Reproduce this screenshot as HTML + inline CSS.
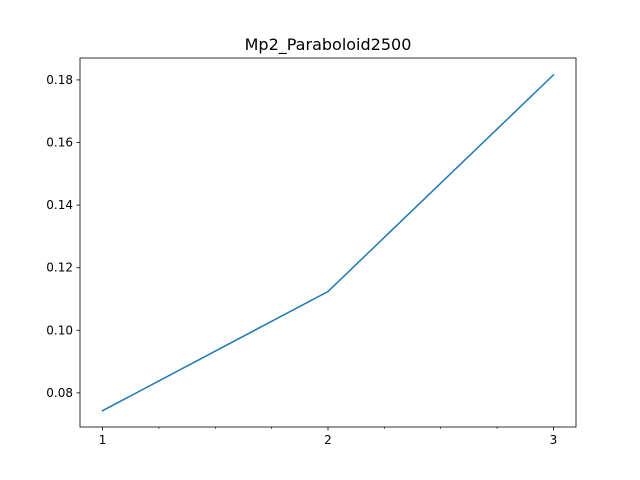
<!DOCTYPE html>
<html><head><meta charset="utf-8"><style>body{margin:0;background:#fff}svg{display:block}text{font-family:"DejaVu Sans","Liberation Sans",sans-serif}</style></head>
<body>
<svg id="c" width="640" height="480">
<rect x="0" y="0" width="640" height="480" fill="#fff"/>
<text x="328" y="50" text-anchor="middle" font-size="16" fill="#000">Mp2_Paraboloid2500</text>
</svg>
<script>
const xs=[1,2,3];
const ys=[0.0743,0.1124,0.1816];
const yTicks=[0.08,0.10,0.12,0.14,0.16,0.18];
const yTickLabels=["0.08","0.10","0.12","0.14","0.16","0.18"];
const xTicks=[1,2,3];
const xTickLabels=["1","2","3"];
const xMinor=[1.25,1.5,1.75,2.25,2.5,2.75];
const L=80,R=576,T=58,B=427;
const x0=0.9,x1=3.1,y0=0.0691,y1=0.1870;
const sx=v=>L+(v-x0)/(x1-x0)*(R-L);
const sy=v=>B-(v-y0)/(y1-y0)*(B-T);
const svg=document.getElementById('c');const NS='http://www.w3.org/2000/svg';
function mk(t,a){const e=document.createElementNS(NS,t);for(const k in a)e.setAttribute(k,a[k]);svg.appendChild(e);return e;}
const pts=xs.map((v,i)=>sx(v)+','+sy(ys[i])).join(' ');
const pl=mk('polyline',{points:pts,fill:'none',stroke:'#1f77b4','stroke-width':1.5,'stroke-linecap':'square'});


yTicks.forEach((v,i)=>{const y=sy(v);
const t=mk('line',{x1:L-3.5,x2:L,y1:y,y2:y,stroke:'#000','stroke-width':0.8});


const tx=mk('text',{x:L-7,y:y+4,'text-anchor':'end','font-size':12,fill:'#000'});tx.textContent=yTickLabels[i];

});
xTicks.forEach((v,i)=>{const x=sx(v);
const t=mk('line',{x1:x,x2:x,y1:B,y2:B+3.5,stroke:'#000','stroke-width':0.8});


const tx=mk('text',{x:x,y:B+17,'text-anchor':'middle','font-size':12,fill:'#000'});tx.textContent=xTickLabels[i];

});
xMinor.forEach(v=>{const x=sx(v);
const t=mk('line',{x1:x,x2:x,y1:B,y2:B+2,stroke:'#000','stroke-width':0.6});

});
const fr=mk('rect',{x:L,y:T,width:R-L,height:B-T,fill:'none',stroke:'#000','stroke-width':0.8});


</script>
</body></html>
